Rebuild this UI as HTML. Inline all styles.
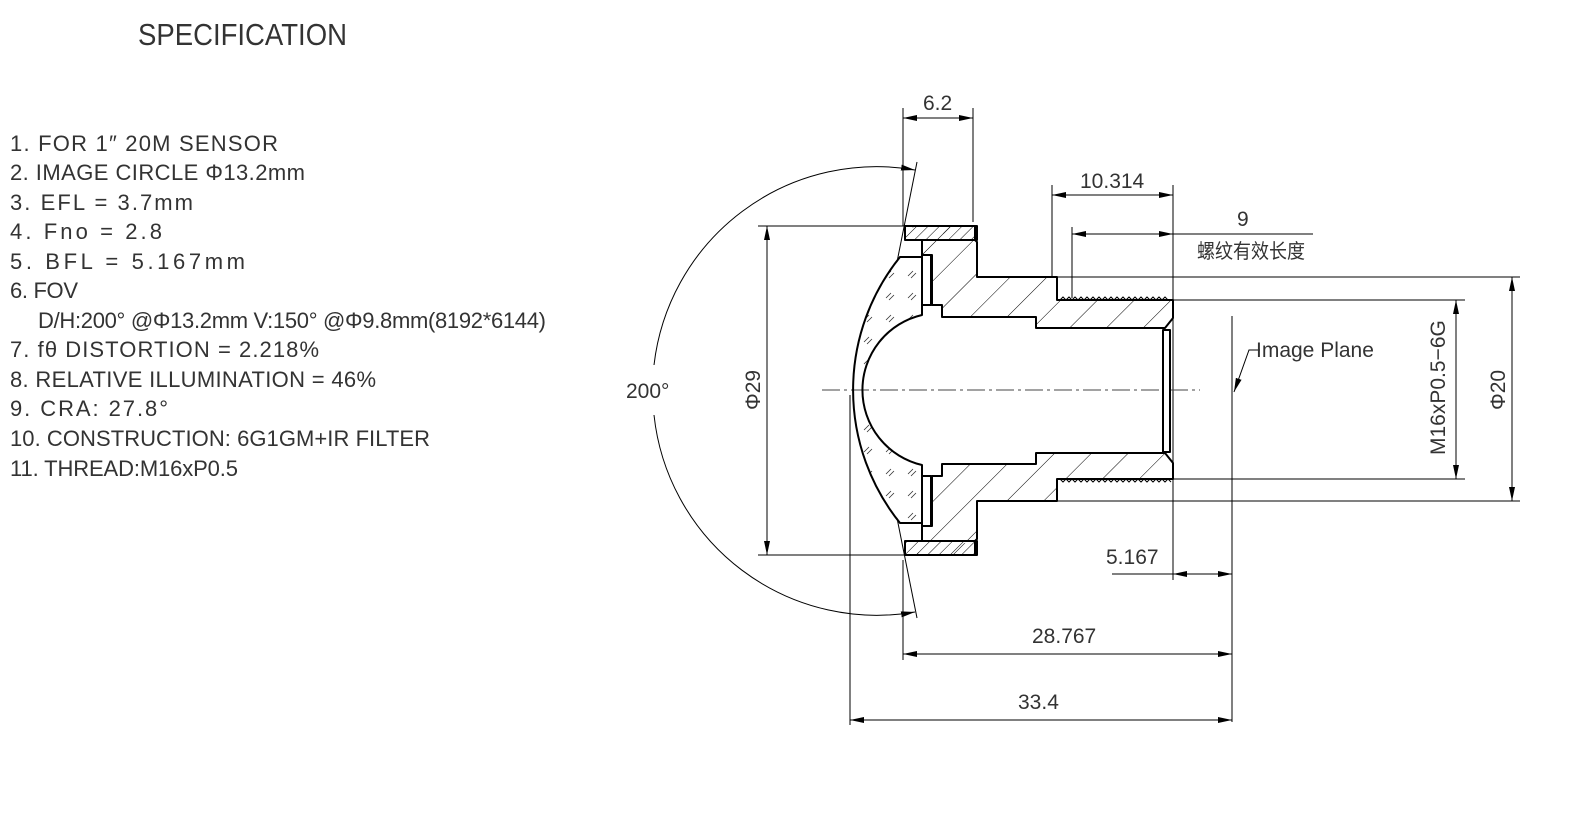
<!DOCTYPE html>
<html><head><meta charset="utf-8"><style>
html,body{margin:0;padding:0;background:#fff;}
svg{display:block;}
text{font-family:"Liberation Sans","Noto Sans CJK SC",sans-serif;fill:#333;}
</style></head><body>
<svg width="1576" height="828" viewBox="0 0 1576 828" xmlns="http://www.w3.org/2000/svg">
<defs>
<marker id="a" viewBox="0 0 14 6" refX="14" refY="3" markerWidth="14" markerHeight="6" markerUnits="userSpaceOnUse" orient="auto-start-reverse"><path d="M0,0 L14,3 L0,6 Z" fill="#000"/></marker>
<pattern id="h" width="26" height="26" patternUnits="userSpaceOnUse" patternTransform="rotate(45)"><line x1="0" y1="0" x2="0" y2="26" stroke="#000" stroke-width="1"/></pattern>
<pattern id="hd" width="8" height="8" patternUnits="userSpaceOnUse" patternTransform="rotate(45)"><line x1="0" y1="0" x2="0" y2="8" stroke="#000" stroke-width="1"/></pattern>
<pattern id="g" width="22" height="22" patternUnits="userSpaceOnUse"><path d="M6,12 l5,-5 M9,14 l5,-5" stroke="#333" stroke-width="0.8"/></pattern>
</defs>

<text x="138" y="45" font-size="31" textLength="209" lengthAdjust="spacingAndGlyphs">SPECIFICATION</text>
<g font-size="22" lengthAdjust="spacingAndGlyphs">
<text x="10" y="151" textLength="268">1. FOR  1″ 20M SENSOR</text>
<text x="10" y="180" textLength="295">2. IMAGE CIRCLE   Φ13.2mm</text>
<text x="10" y="210" textLength="183">3. EFL =   3.7mm</text>
<text x="10" y="239" textLength="152">4. Fno =   2.8</text>
<text x="10" y="269" textLength="235">5. BFL =   5.167mm</text>
<text x="10" y="298" textLength="68">6. FOV</text>
<text x="38" y="328" textLength="508">D/H:200° @Φ13.2mm  V:150° @Φ9.8mm(8192*6144)</text>
<text x="10" y="357" textLength="309">7. fθ DISTORTION =  2.218%</text>
<text x="10" y="387" textLength="366">8. RELATIVE ILLUMINATION = 46%</text>
<text x="10" y="416" textLength="158">9. CRA:  27.8°</text>
<text x="10" y="446" textLength="420">10. CONSTRUCTION:  6G1GM+IR FILTER</text>
<text x="10" y="476" textLength="228">11. THREAD:M16xP0.5</text>
</g>

<g fill="none" stroke="#000" stroke-width="1">
<path d="M915,170 A224,224 0 0,0 654,365" marker-start="url(#a)"/>
<path d="M654,415 A224,224 0 0,0 915,612" marker-end="url(#a)"/>
<line x1="917" y1="162" x2="897" y2="262"/>
<line x1="897" y1="518" x2="917" y2="618"/>
<line x1="903" y1="108" x2="903" y2="226"/><line x1="973" y1="108" x2="973" y2="222"/>
<line x1="903" y1="118" x2="973" y2="118" marker-start="url(#a)" marker-end="url(#a)"/>
<line x1="1052" y1="185" x2="1052" y2="277"/><line x1="1173" y1="185" x2="1173" y2="580"/>
<line x1="1052" y1="195" x2="1173" y2="195" marker-start="url(#a)" marker-end="url(#a)"/>
<line x1="1072" y1="227" x2="1072" y2="298"/>
<line x1="1072" y1="234" x2="1173" y2="234" marker-start="url(#a)" marker-end="url(#a)"/>
<line x1="1173" y1="234" x2="1313" y2="234"/>
<line x1="758" y1="226" x2="905" y2="226"/><line x1="758" y1="555" x2="905" y2="555"/>
<line x1="767" y1="226" x2="767" y2="555" marker-start="url(#a)" marker-end="url(#a)"/>
<line x1="1057" y1="277" x2="1520" y2="277"/><line x1="1057" y1="501" x2="1520" y2="501"/>
<line x1="1512" y1="277" x2="1512" y2="501" marker-start="url(#a)" marker-end="url(#a)"/>
<line x1="1173" y1="300" x2="1465" y2="300"/><line x1="1173" y1="479" x2="1465" y2="479"/>
<line x1="1456" y1="300" x2="1456" y2="479" marker-start="url(#a)" marker-end="url(#a)"/>
<line x1="1232" y1="316" x2="1232" y2="722"/>
<polyline points="1260,350 1249,350 1234,392" marker-end="url(#a)"/>
<line x1="1112" y1="574" x2="1173" y2="574"/>
<line x1="1173" y1="574" x2="1232" y2="574" marker-start="url(#a)" marker-end="url(#a)"/>
<line x1="903" y1="560" x2="903" y2="660"/>
<line x1="903" y1="654" x2="1232" y2="654" marker-start="url(#a)" marker-end="url(#a)"/>
<line x1="850" y1="395" x2="850" y2="725"/>
<line x1="850" y1="720" x2="1232" y2="720" marker-start="url(#a)" marker-end="url(#a)"/>
<line x1="822" y1="390" x2="1200" y2="390" stroke="#444" stroke-dasharray="18,4,3,4"/>
</g>

<g stroke="#000" stroke-width="2" stroke-linejoin="round">
<path d="M905,226 L975,226 L975,240 L922,240 L922,255 L932,255 L932,305 L942,305 L942,317 L1036,317 L1036,328 L1165,328 L1173,318 L1173,300 L1057,300 L1057,277 L977,277 L977,242 L975,240" fill="url(#h)"/>
<path d="M905,555 L975,555 L975,541 L922,541 L922,526 L932,526 L932,476 L942,476 L942,464 L1036,464 L1036,453 L1165,453 L1173,463 L1173,479 L1057,479 L1057,501 L977,501 L977,539 L975,541" fill="url(#h)"/>
<rect x="905" y="226" width="72" height="14" fill="url(#hd)"/>
<rect x="905" y="541" width="72" height="14" fill="url(#hd)"/>
<path d="M900,257 A212,212 0 0,0 900,523 L922,523 L922,465 A77,77 0 0,1 922,315 L922,257 Z" fill="url(#g)"/>
<rect x="922" y="255" width="9" height="50" fill="#fff"/>
<rect x="922" y="476" width="9" height="50" fill="#fff"/>
<rect x="1163" y="330" width="7" height="122" fill="#fff"/>
</g>
<path d="M1060,300 l3,-3 l3,3 l3,-3 l3,3 l3,-3 l3,3 l3,-3 l3,3 l3,-3 l3,3 l3,-3 l3,3 l3,-3 l3,3 l3,-3 l3,3 l3,-3 l3,3 l3,-3 l3,3 l3,-3 l3,3 l3,-3 l3,3 l3,-3 l3,3 l3,-3 l3,3 l3,-3 l3,3 l3,-3 l3,3 l3,-3 l3,3 l3,-3 l3,3" fill="none" stroke="#000" stroke-width="1"/>
<path d="M1060,479 l3,3 l3,-3 l3,3 l3,-3 l3,3 l3,-3 l3,3 l3,-3 l3,3 l3,-3 l3,3 l3,-3 l3,3 l3,-3 l3,3 l3,-3 l3,3 l3,-3 l3,3 l3,-3 l3,3 l3,-3 l3,3 l3,-3 l3,3 l3,-3 l3,3 l3,-3 l3,3 l3,-3 l3,3 l3,-3 l3,3 l3,-3 l3,3 l3,-3 l3,3" fill="none" stroke="#000" stroke-width="1"/>

<g font-size="21">
<text x="923" y="110">6.2</text>
<text x="1080" y="188">10.314</text>
<text x="1237" y="226">9</text>
<text x="1197" y="258" font-size="20" textLength="108" lengthAdjust="spacingAndGlyphs">螺纹有效长度</text>
<text x="1256" y="357">Image  Plane</text>
<text x="1106" y="564">5.167</text>
<text x="1032" y="643">28.767</text>
<text x="1018" y="709">33.4</text>
<text x="626" y="398">200°</text>
<text transform="translate(760,410) rotate(-90)">Φ29</text>
<text transform="translate(1505,410) rotate(-90)">Φ20</text>
<text transform="translate(1445,455) rotate(-90)">M16xP0.5−6G</text>
</g>
</svg>
</body></html>
